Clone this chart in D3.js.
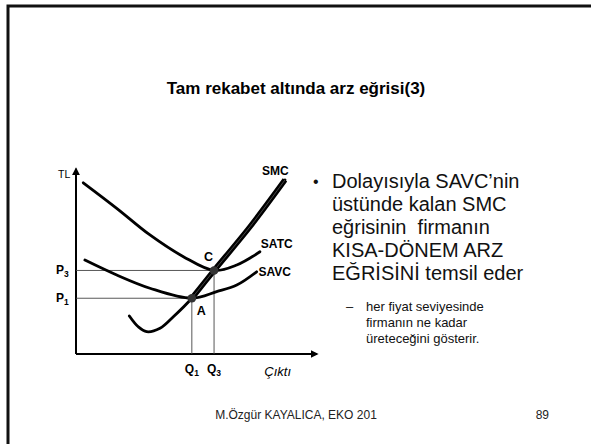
<!DOCTYPE html>
<html>
<head>
<meta charset="utf-8">
<script src="https://cdn.jsdelivr.net/npm/d3@7"></script>
<style>
  html, body { margin: 0; padding: 0; background: #fff; }
  svg { display: block; font-family: "Liberation Sans", Arial, sans-serif; }
  text { white-space: pre; }
</style>
</head>
<body>
<svg id="slide" width="591" height="444"></svg>
<script>
// Short-run cost curves (quantity, price in arbitrary units)
const satc = [[0.31, 9.06], [1.74, 7.71], [3.16, 6.30], [4.59, 5.15], [5.90, 4.42], [6.87, 4.71], [7.86, 5.41]];
const savc = [[0.38, 4.97], [1.74, 4.18], [3.16, 3.48], [4.95, 2.95], [6.01, 3.30], [6.87, 3.65], [7.72, 4.35]];
const smc  = [[2.28, 2.01], [2.66, 1.44], [3.02, 1.18], [3.59, 1.36], [4.16, 1.97], [4.95, 2.95], [5.90, 4.42], [7.44, 6.74], [8.93, 9.21]];
// Short-run supply: SMC above the SAVC minimum
const supply = [[4.95, 2.95], [5.90, 4.42], [7.44, 6.74], [8.93, 9.21]];

// Marked equilibria
const pointNames = ["A", "C"];
const pointQ = [4.95, 5.90];
const pointP = [2.95, 4.42];

// Axis tick labels
const priceTicks = [{base: "P", sub: "1", value: 2.95}, {base: "P", sub: "3", value: 4.42}];
const qtyTicks = [{base: "Q", sub: "1", value: 4.95}, {base: "Q", sub: "3", value: 5.90}];

const curveNames = ["SMC", "SATC", "SAVC"];

const bulletLines = ["Dolayısıyla SAVC’nin", "üstünde kalan SMC", "eğrisinin  firmanın", "KISA-DÖNEM ARZ", "EĞRİSİNİ temsil eder"];
const subLines = ["her fiyat seviyesinde", "firmanın ne kadar", "üreteceğini gösterir."];

const svg = d3.select("#slide");

// slide frame (top and left edges)
svg.append("path")
  .attr("d", "M8,444 V6 H591")
  .attr("fill", "none").attr("stroke", "#111").attr("stroke-width", 3);

svg.append("text")
  .attr("x", 296).attr("y", 94)
  .attr("text-anchor", "middle")
  .attr("font-size", 17).attr("font-weight", "bold")
  .text("Tam rekabet altında arz eğrisi(3)");

const x = d3.scaleLinear().domain([0, 10]).range([76, 310]);
const y = d3.scaleLinear().domain([0, 10]).range([354, 165]);

// axes with arrowheads
const defs = svg.append("defs");
defs.append("marker").attr("id", "arr").attr("viewBox", "0 0 10 10")
  .attr("refX", 8).attr("refY", 5).attr("markerWidth", 4).attr("markerHeight", 4)
  .attr("orient", "auto")
  .append("path").attr("d", "M0,0 L10,5 L0,10 z").attr("fill", "#000");

const gAxis = svg.append("g");
gAxis.append("line")
  .attr("x1", x(0)).attr("y1", y(0)).attr("x2", x(0)).attr("y2", y(9.8))
  .attr("stroke", "#000").attr("stroke-width", 2).attr("marker-end", "url(#arr)");
gAxis.append("line")
  .attr("x1", x(0)).attr("y1", y(0)).attr("x2", x(10.3)).attr("y2", y(0))
  .attr("stroke", "#000").attr("stroke-width", 2).attr("marker-end", "url(#arr)");

svg.append("text").attr("x", x(0) - 18).attr("y", y(9.3))
  .attr("font-size", 10.5).text("TL");
svg.append("text").attr("x", x(8.05)).attr("y", y(-1.15))
  .attr("font-size", 13).attr("font-style", "italic").text("Çıktı");

// guide lines
const guides = svg.append("g").attr("stroke", "#444").attr("stroke-width", 0.9);
pointQ.forEach((q, i) => {
  guides.append("line").attr("x1", x(0)).attr("x2", x(q)).attr("y1", y(pointP[i])).attr("y2", y(pointP[i]));
  guides.append("line").attr("x1", x(q)).attr("x2", x(q)).attr("y1", y(pointP[i])).attr("y2", y(0));
});

const line = d3.line().x(d => x(d[0])).y(d => y(d[1])).curve(d3.curveCatmullRom.alpha(0.5));

[satc, savc, smc].forEach(c => {
  svg.append("path").attr("d", line(c)).attr("fill", "none")
    .attr("stroke", "#000").attr("stroke-width", 2.8).attr("stroke-linecap", "round");
});
svg.append("path").attr("d", line(supply)).attr("fill", "none")
  .attr("stroke", "#000").attr("stroke-width", 5.5);
svg.append("path").attr("d", line(supply)).attr("fill", "none")
  .attr("stroke", "#666").attr("stroke-width", 0.7);

// equilibrium dots
svg.selectAll("circle.pt").data(pointQ).join("circle")
  .attr("cx", d => x(d)).attr("cy", (d, i) => y(pointP[i])).attr("r", 4.3)
  .attr("fill", "#333");

// labels
const lab = svg.append("g").attr("font-size", 12).attr("font-weight", "bold");
lab.append("text").attr("x", x(7.95)).attr("y", y(9.45)).text(curveNames[0]);
lab.append("text").attr("x", x(7.9)).attr("y", y(5.6)).text(curveNames[1]);
lab.append("text").attr("x", x(7.8)).attr("y", y(4.15)).text(curveNames[2]);
lab.append("text").attr("x", x(pointQ[0]) + 5).attr("y", y(pointP[0]) + 17).attr("font-size", 12.5).text(pointNames[0]);
lab.append("text").attr("x", x(pointQ[1]) - 10).attr("y", y(pointP[1]) - 9).attr("font-size", 12.5).text(pointNames[1]);

priceTicks.forEach(t => {
  const tx = lab.append("text").attr("x", 56).attr("y", y(t.value) + 4).attr("font-size", 12);
  tx.append("tspan").text(t.base);
  tx.append("tspan").attr("font-size", 8.5).attr("dy", 3).text(t.sub);
});
qtyTicks.forEach(t => {
  const tx = lab.append("text").attr("x", x(t.value)).attr("y", y(0) + 19)
    .attr("text-anchor", "middle").attr("font-size", 12);
  tx.append("tspan").text(t.base);
  tx.append("tspan").attr("font-size", 8.5).attr("dy", 3).text(t.sub);
});

// bullet text
const body = svg.append("g").attr("fill", "#111");
body.append("text").attr("x", 313).attr("y", 187).attr("font-size", 16).text("•");
bulletLines.forEach((s, i) => {
  body.append("text").attr("x", 332).attr("y", 188 + i * 23).attr("font-size", 20).text(s);
});
body.append("text").attr("x", 346).attr("y", 311).attr("font-size", 13).text("–");
subLines.forEach((s, i) => {
  body.append("text").attr("x", 366).attr("y", 311 + i * 16).attr("font-size", 13).text(s);
});

// footer
svg.append("text").attr("x", 296).attr("y", 419).attr("text-anchor", "middle")
  .attr("font-size", 12).attr("fill", "#222").text("M.Özgür KAYALICA, EKO 201");
svg.append("text").attr("x", 549).attr("y", 419).attr("text-anchor", "end")
  .attr("font-size", 12).attr("fill", "#222").text("89");
</script>
</body>
</html>
